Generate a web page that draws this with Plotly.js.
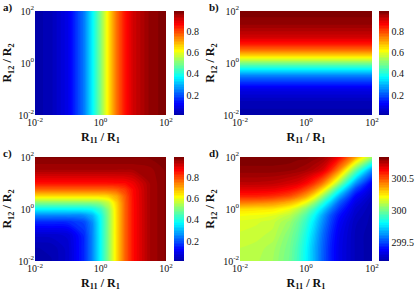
<!DOCTYPE html>
<html><head><meta charset="utf-8">
<script src="https://cdn.plot.ly/plotly-3.0.1.min.js"></script>
<style>html,body{margin:0;padding:0;background:#fff}#chart{width:416px;height:293px}</style>
</head><body><div id="chart"></div>
<script>
// ratio grid (R11/R1 along x, R12/R2 along y)
const ratioGrid = [0.01, 0.0316, 0.1, 0.316, 0.562, 1, 1.78, 3.16, 5.62, 10, 31.6, 100];
const ratioEnds = [0.01, 100];

// a) fraction vs R11/R1 only
const fracA = [0.0099, 0.0306, 0.0909, 0.240, 0.360, 0.500, 0.640, 0.760, 0.849, 0.909, 0.969, 0.990];
// b) fraction vs R12/R2 only
const fracB = [0.0099, 0.0306, 0.0909, 0.240, 0.360, 0.500, 0.640, 0.760, 0.849, 0.909, 0.969, 0.990];
// c) fraction vs both (rows: R12/R2, cols: R11/R1)
const fracC = [
 [0.007,0.019,0.056,0.157,0.249,0.370,0.511,0.650,0.768,0.855,0.949,0.983],
 [0.019,0.023,0.057,0.157,0.249,0.370,0.511,0.650,0.768,0.855,0.949,0.983],
 [0.056,0.057,0.069,0.160,0.249,0.370,0.511,0.650,0.768,0.855,0.949,0.983],
 [0.157,0.157,0.160,0.190,0.259,0.373,0.512,0.650,0.768,0.855,0.949,0.983],
 [0.249,0.249,0.249,0.259,0.294,0.383,0.514,0.651,0.768,0.855,0.949,0.983],
 [0.370,0.370,0.370,0.373,0.383,0.426,0.525,0.653,0.768,0.855,0.949,0.983],
 [0.511,0.511,0.511,0.512,0.514,0.525,0.569,0.663,0.770,0.856,0.949,0.983],
 [0.650,0.650,0.650,0.650,0.651,0.653,0.663,0.701,0.778,0.858,0.949,0.983],
 [0.768,0.768,0.768,0.768,0.768,0.768,0.770,0.778,0.807,0.861,0.949,0.983],
 [0.855,0.855,0.855,0.855,0.855,0.855,0.856,0.858,0.861,0.881,0.950,0.983],
 [0.949,0.949,0.949,0.949,0.949,0.949,0.949,0.949,0.949,0.950,0.959,0.983],
 [0.983,0.983,0.983,0.983,0.983,0.983,0.983,0.983,0.983,0.983,0.983,0.987]
];
// d) temperature (K) vs both (rows: R12/R2, cols: R11/R1)
const tempD = [
 [300.12,300.11,300.08,300.00,299.92,299.81,299.69,299.55,299.44,299.35,299.25,299.21],
 [300.13,300.12,300.09,300.01,299.93,299.82,299.69,299.56,299.44,299.35,299.25,299.21],
 [300.15,300.14,300.12,300.03,299.96,299.85,299.72,299.58,299.46,299.36,299.25,299.21],
 [300.17,300.16,300.14,300.07,300.00,299.90,299.77,299.63,299.50,299.39,299.26,299.22],
 [300.21,300.20,300.18,300.12,300.05,299.95,299.82,299.67,299.53,299.42,299.28,299.22],
 [300.28,300.27,300.26,300.20,300.13,300.04,299.91,299.76,299.61,299.48,299.30,299.23],
 [300.44,300.43,300.41,300.35,300.29,300.20,300.07,299.90,299.73,299.56,299.34,299.24],
 [300.59,300.59,300.57,300.52,300.46,300.38,300.25,300.08,299.89,299.69,299.40,299.27],
 [300.68,300.68,300.67,300.63,300.59,300.52,300.42,300.27,300.08,299.87,299.50,299.31],
 [300.75,300.75,300.74,300.71,300.69,300.64,300.56,300.45,300.28,300.08,299.65,299.37],
 [300.82,300.82,300.82,300.81,300.80,300.78,300.75,300.70,300.58,300.42,300.00,299.63],
 [300.85,300.85,300.85,300.85,300.84,300.84,300.82,300.80,300.74,300.65,300.38,300.08]
];

const axisTickVals = [0.01, 1, 100];
const axisTickText = ['10<sup>-2</sup>', '10<sup>0</sup>', '10<sup>2</sup>'];
const fracTicks = [0.2, 0.4, 0.6, 0.8];
const fracTickText = ['0.2', '0.4', '0.6', '0.8'];
const tempTicks = [299.5, 300, 300.5];
const tempTickText = ['299.5', '300', '300.5'];
const panelLabels = ['a)', 'b)', 'c)', 'd)'];
const xTitle = 'R<sub>11</sub> / R<sub>1</sub>';
const yTitle = 'R<sub>12</sub> / R<sub>2</sub>';

const jet = [
  [0.0, 'rgb(0,0,170)'], [0.11, 'rgb(0,0,255)'], [0.365, 'rgb(0,255,255)'],
  [0.5, 'rgb(128,255,128)'], [0.619, 'rgb(255,255,0)'], [0.873, 'rgb(255,0,0)'], [1.0, 'rgb(128,0,0)']
];

const W = 416, H = 293;
const FONT = 'Liberation Serif';

// build z tables from the 1-D arrays
const zA = ratioEnds.map(() => fracA.slice());
const zB = fracB.map(v => ratioEnds.map(() => v));

function cbar(xpx, topPx, ticks, text) {
  return {
    x: xpx / W, xanchor: 'left', xref: 'paper', xpad: 0,
    y: 1 - topPx / H, yanchor: 'top', yref: 'paper', ypad: 0,
    len: 104 / H, lenmode: 'fraction', thickness: 10, thicknessmode: 'pixels',
    outlinewidth: 0, ticks: '', tickvals: ticks, ticktext: text,
    tickfont: {family: FONT, size: 10, color: '#111'}, ticklabelpad: 2
  };
}

function ctr(x, y, z, xa, ya, start, end, size, cb) {
  return {
    type: 'contour', x: x, y: y, z: z, xaxis: xa, yaxis: ya,
    colorscale: jet, autocontour: false,
    contours: {start: start, end: end, size: size, coloring: 'fill', showlines: false},
    line: {width: 0, smoothing: 0.8},
    colorbar: cb, hoverinfo: 'skip'
  };
}

const data = [
  ctr(ratioGrid, ratioEnds, zA, 'x', 'y', 0.02, 0.98, 0.015, cbar(174, 11, fracTicks, fracTickText)),
  ctr(ratioEnds, ratioGrid, zB, 'x2', 'y2', 0.02, 0.98, 0.015, cbar(379, 11, fracTicks, fracTickText)),
  ctr(ratioGrid, ratioGrid, fracC, 'x3', 'y3', 0.02, 0.98, 0.015, cbar(174, 157, fracTicks, fracTickText)),
  ctr(ratioGrid, ratioGrid, tempD, 'x4', 'y4', 299.23, 300.84, 0.025, cbar(379, 157, tempTicks, tempTickText))
];

function xax(l, r, anchor) {
  return {
    type: 'log', domain: [l / W, r / W], range: [-2, 2], anchor: anchor,
    tickvals: axisTickVals, ticktext: axisTickText, ticks: '', showgrid: false, zeroline: false,
    showline: false, tickfont: {family: FONT, size: 10, color: '#111'},
    title: {text: xTitle, font: {family: FONT, size: 12, color: '#111', weight: 'bold'}, standoff: 5}
  };
}
function yax(t, b, anchor) {
  return {
    type: 'log', domain: [1 - b / H, 1 - t / H], range: [-2, 2], anchor: anchor,
    tickvals: axisTickVals, ticktext: axisTickText, ticks: '', showgrid: false, zeroline: false,
    showline: false, tickfont: {family: FONT, size: 10, color: '#111'},
    title: {text: yTitle, font: {family: FONT, size: 12, color: '#111', weight: 'bold'}, standoff: 5}
  };
}

const ann = [[1, 7], [207, 7], [1, 153], [207, 153]].map((p, i) => ({
  text: panelLabels[i], x: p[0] / W, y: 1 - p[1] / H, xref: 'paper', yref: 'paper',
  xanchor: 'left', yanchor: 'middle', showarrow: false,
  font: {family: FONT, size: 11, color: '#111', weight: 'bold'}
}));

const layout = {
  width: W, height: H, margin: {l: 0, r: 0, t: 0, b: 0},
  paper_bgcolor: '#fff', plot_bgcolor: '#fff', showlegend: false,
  font: {family: FONT},
  xaxis: xax(35, 166, 'y'), yaxis: yax(11, 115, 'x'),
  xaxis2: xax(240, 372, 'y2'), yaxis2: yax(11, 115, 'x2'),
  xaxis3: xax(35, 166, 'y3'), yaxis3: yax(157, 261, 'x3'),
  xaxis4: xax(240, 372, 'y4'), yaxis4: yax(157, 261, 'x4'),
  annotations: ann
};

Plotly.newPlot('chart', data, layout, {displayModeBar: false, staticPlot: true});
</script>
</body></html>
